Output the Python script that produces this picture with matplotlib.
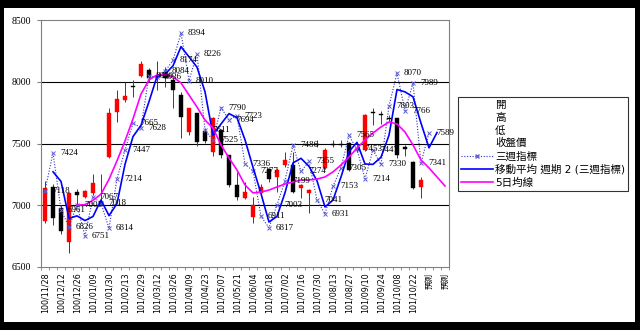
import numpy as np
import matplotlib.pyplot as plt
from matplotlib.patches import Rectangle
from matplotlib.lines import Line2D

plt.rcParams['font.family'] = ['DejaVu Sans', 'Noto Sans CJK TC']

# x tick labels (one every 2 weeks)
tick_labels = ['100/11/28', '100/12/12', '100/12/26', '101/01/09', '101/01/30', '101/02/13',
               '101/02/29', '101/03/12', '101/03/26', '101/04/09', '101/04/23', '101/05/07',
               '101/05/21', '101/06/04', '101/06/18', '101/07/02', '101/07/16', '101/07/30',
               '101/08/13', '101/08/27', '101/09/10', '101/09/24', '101/10/08', '101/10/22',
               '預測', '預測']
n_cat = 51

# weekly candles
opens = [6870, 7150, 6980, 6700, 7110, 7070, 7100, 7030, 7390, 7755, 7850, 7965, 8045, 8095, 8050, 8080,
         8015, 7895, 7595, 7745, 7600, 7430, 7610, 7405, 7165, 7060, 6905, 7100, 7290, 7230, 7325, 7325,
         7140, 7100, 7500, 7300, 7495, 7495, 7505, 7455, 7450, 7755, 7740, 7710, 7705, 7470, 7350, 7150]
highs = [7200, 7170, 7000, 7110, 7130, 7120, 7250, 7250, 7790, 7930, 8000, 8015, 8165, 8110, 8170, 8120,
         8055, 7915, 7790, 7750, 7625, 7715, 7620, 7410, 7270, 7190, 7065, 7170, 7300, 7300, 7430, 7430,
         7170, 7130, 7530, 7460, 7530, 7530, 7510, 7480, 7740, 7790, 7760, 7730, 7710, 7490, 7360, 7230]
lows = [6860, 6840, 6770, 6610, 7000, 7060, 7080, 7000, 7380, 7675, 7840, 7875, 8040, 7995, 7935, 7960,
        7790, 7545, 7570, 7480, 7505, 7400, 7380, 7150, 7040, 7050, 6860, 7080, 7190, 7110, 7310, 7100,
        7060, 6940, 7470, 7290, 7470, 7470, 7280, 7430, 7440, 7650, 7660, 7680, 7380, 7400, 7130, 7060]
closes = [7140, 6900, 6790, 7100, 7080, 7115, 7180, 7020, 7745, 7860, 7885, 7955, 8140, 8030, 8040, 8030,
          7935, 7715, 7785, 7510, 7520, 7705, 7405, 7165, 7065, 7105, 7000, 7150, 7210, 7285, 7365, 7105,
          7165, 7125, 7490, 7445, 7485, 7485, 7285, 7445, 7730, 7745, 7730, 7700, 7405, 7455, 7140, 7205]

# three-week indicator
week3 = [7118, 7424, 6961, 6826, 7001, 6751, 7067, 7018, 6814, 7214, 7447, 7665, 7628, 8050, 8036, 8084,
         8174, 8394, 8010, 8226, 7611, 7525, 7790, 7694, 7723, 7336, 7277, 6911, 6817, 7003, 7199, 7486,
         7274, 7355, 7041, 6931, 7153, 7305, 7565, 7453, 7214, 7447, 7330, 7803, 8070, 7766, 7989, 7341, 7589]

# 2-period moving average of the indicator (starts at week 1)
ma2 = [np.nan, 7271, 7193, 6894, 6914, 6876, 6909, 7043, 6916, 7014, 7331, 7556, 7647, 7839, 8043, 8060,
       8129, 8284, 8202, 8118, 7919, 7568, 7658, 7742, 7709, 7530, 7307, 7094, 6864, 6910, 7101, 7343,
       7380, 7315, 7198, 6986, 7042, 7229, 7435, 7509, 7334, 7331, 7389, 7567, 7937, 7918, 7878, 7665,
       7465, 7589]

# 5-week average line
ma5 = [np.nan] * 4 + [7000, 7005, 7040, 7090, 7210, 7360, 7520, 7700, 7900, 8015, 8055, 8060, 8040, 7990,
                      7893, 7795, 7690, 7625, 7488, 7383, 7285, 7164, 7100, 7107, 7123, 7148, 7172, 7188,
                      7205, 7205, 7212, 7229, 7270, 7326, 7390, 7463, 7528, 7585, 7634, 7674, 7658, 7593,
                      7488, 7366, 7302, 7229, 7156]

fig = plt.figure(figsize=(6.4, 3.3), dpi=100)
fig.patch.set_facecolor('black')
fig.add_artist(Rectangle((4 / 640, 8 / 330), 631 / 640, 314 / 330, transform=fig.transFigure,
                         facecolor='white', edgecolor='none', zorder=0))

ax = fig.add_axes([41 / 640, 1 - 267 / 330, 408 / 640, 247 / 330])
ax.set_xlim(-0.5, n_cat - 0.5)
ax.set_ylim(6500, 8500)

for y in [7000, 7500, 8000]:
    ax.axhline(y, color='black', lw=0.8, zorder=1)
for s in ax.spines.values():
    s.set_color('#808080')
    s.set_linewidth(0.8)

# candles: red up, black down
for i in range(len(opens)):
    o, h, l, c = opens[i], highs[i], lows[i], closes[i]
    col = 'red' if c >= o else 'black'
    ax.vlines(i, l, h, color='#404040', lw=0.7, zorder=2)
    ax.add_patch(Rectangle((i - 0.3, min(o, c)), 0.6, max(abs(c - o), 8), facecolor=col,
                           edgecolor=col, lw=0.3, zorder=3))

x3 = np.arange(len(week3))
ax.plot(x3, week3, color='#3030c0', lw=0.8, ls=(0, (1, 1.5)), marker='x', ms=3.5, mew=0.7,
        mec='#6060d0', zorder=4)
ax.plot(np.arange(len(ma2)), ma2, color='#0000ff', lw=1.2, zorder=5)
ax.plot(np.arange(len(ma5)), ma5, color='#ff00ff', lw=1.2, zorder=5)

for i, v in enumerate(week3):
    ax.annotate(str(v), (i, v), xytext=(5, 0), textcoords='offset points', va='center', ha='left',
                fontsize=6.5, family='Liberation Serif', zorder=6)

ax.set_yticks([6500, 7000, 7500, 8000, 8500])
ax.set_yticklabels(['6500', '7000', '7500', '8000', '8500'], family='Liberation Serif', fontsize=7)
ax.tick_params(axis='y', length=3, color='#808080', pad=4)
ax.set_xticks(np.arange(0, n_cat, 2))
ax.set_xticklabels(tick_labels, rotation=90, fontsize=5.8)
ax.set_xticks(np.arange(-0.5, n_cat, 1), minor=True)
ax.tick_params(axis='x', which='major', length=0, pad=4)
ax.tick_params(axis='x', which='minor', length=2.5, color='#808080')

handles = [Line2D([], [], ls='none'), Line2D([], [], ls='none'), Line2D([], [], ls='none'),
           Line2D([], [], ls='none'),
           Line2D([], [], color='#3030c0', lw=0.8, ls=(0, (1, 1.5)), marker='x', ms=3.5, mec='#6060d0'),
           Line2D([], [], color='#0000ff', lw=1.2), Line2D([], [], color='#ff00ff', lw=1.2)]
labels = ['開', '高', '低', '收盤價', '三週指標', '移動平均 週期 2 (三週指標)', '5日均線']
leg = fig.legend(handles, labels, loc='upper left', bbox_to_anchor=(458 / 640, 1 - 97 / 330),
                 bbox_transform=fig.transFigure, fontsize=7.6, frameon=True, fancybox=False,
                 edgecolor='black', handlelength=3.0, handletextpad=0.2, labelspacing=0.25,
                 borderpad=0.3, borderaxespad=0)
leg.get_frame().set_linewidth(0.8)

fig.savefig('out.png', dpi=100, facecolor=fig.get_facecolor())
